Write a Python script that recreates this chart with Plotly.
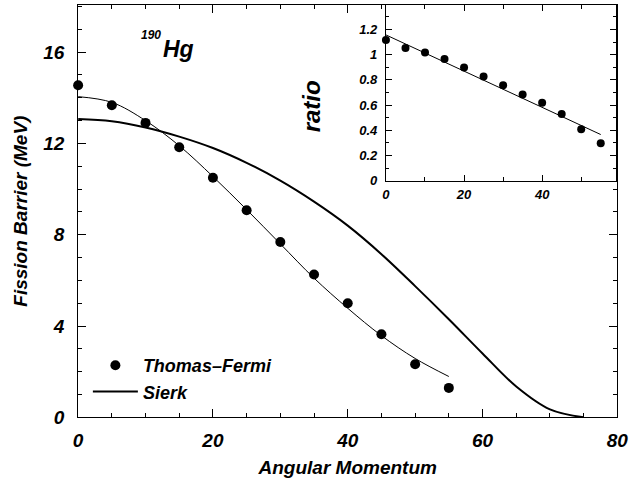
import plotly.graph_objects as go

# ---- data ----
L_tf = [0, 5, 10, 15, 20, 25, 30, 35, 40, 45, 50, 55]
tf_barrier = [14.55, 13.67, 12.9, 11.83, 10.5, 9.07, 7.68, 6.26, 5.0, 3.64, 2.33, 1.29]
tf_fit = [14.05, 13.8, 13.0, 11.9, 10.55, 9.1, 7.6, 6.1, 4.78, 3.58, 2.58, 1.79]

L_sierk = [0, 5, 10, 15, 20, 25, 30, 35, 40, 45, 50, 55, 60, 65, 70, 75]
sierk = [13.07, 12.97, 12.7, 12.3, 11.8, 11.15, 10.37, 9.45, 8.4, 7.15, 5.75, 4.3, 2.8, 1.35, 0.35, 0.0]

ratio = [1.116, 1.054, 1.018, 0.966, 0.899, 0.827, 0.757, 0.685, 0.62, 0.53, 0.408, 0.297]
L_ratio_fit = [0, 55]
ratio_fit = [1.157, 0.367]

FONT = "Liberation Sans"
W, H = 641, 487


def px(x):
    return x / W


def py(y):
    return (H - y) / H


def bi(size):
    return dict(family=FONT, size=size, color="black", weight="bold", style="italic")


fig = go.Figure()

fig.add_trace(go.Scatter(x=L_tf, y=tf_fit, mode="lines", line=dict(color="black", width=1, shape="spline"),
                         showlegend=False, xaxis="x", yaxis="y"))
fig.add_trace(go.Scatter(x=L_tf, y=tf_barrier, mode="markers", name="Thomas\u2013Fermi",
                         marker=dict(color="black", size=10), cliponaxis=False, xaxis="x", yaxis="y"))
fig.add_trace(go.Scatter(x=L_sierk, y=sierk, mode="lines", name="Sierk",
                         line=dict(color="black", width=2, shape="spline", smoothing=1.0),
                         xaxis="x", yaxis="y"))

fig.add_trace(go.Scatter(x=L_ratio_fit, y=ratio_fit, mode="lines", line=dict(color="black", width=1),
                         showlegend=False, xaxis="x2", yaxis="y2"))
fig.add_trace(go.Scatter(x=L_tf, y=ratio, mode="markers", marker=dict(color="black", size=8),
                         showlegend=False, cliponaxis=False, xaxis="x2", yaxis="y2"))

axis_common = dict(showline=True, linecolor="black", linewidth=1, mirror="ticks", ticks="inside",
                   tickcolor="black", showgrid=False, zeroline=False)

fig.update_layout(
    width=W, height=H,
    margin=dict(l=0, r=0, t=0, b=0),
    paper_bgcolor="white", plot_bgcolor="white",
    xaxis=dict(domain=[px(75), px(628)], range=[0, 80], dtick=20, ticklen=8,
               tickfont=bi(19), anchor="y", ticklabelstandoff=6,
               minor=dict(dtick=5, ticks="inside", ticklen=4, tickcolor="black"),
               title=dict(text="Angular Momentum", font=bi(19), standoff=10),
               **axis_common),
    yaxis=dict(domain=[py(427), py(5)], range=[0, 18.07], tickvals=[0, 4, 8, 12, 16], ticklen=8,
               tickfont=bi(19), anchor="x", ticklabelstandoff=9,
               minor=dict(dtick=1, ticks="inside", ticklen=4, tickcolor="black"),
               title=dict(text="Fission Barrier (MeV)", font=bi(19), standoff=10),
               **axis_common),
    xaxis2=dict(domain=[px(390.7), px(627)], range=[0, 59], tickvals=[0, 20, 40], ticklen=6,
                tickfont=bi(13), anchor="y2", ticklabelstandoff=2,
                minor=dict(dtick=10, ticks="inside", ticklen=4, tickcolor="black"),
                **axis_common),
    yaxis2=dict(domain=[py(185), py(5)], range=[0, 1.395], tickvals=[0, 0.2, 0.4, 0.6, 0.8, 1, 1.2],
                ticktext=["0", "0.2", "0.4", "0.6", "0.8", "1", "1.2"], ticklen=6,
                tickfont=bi(13), anchor="x2", ticklabelstandoff=5,
                minor=dict(dtick=0.1, ticks="inside", ticklen=3, tickcolor="black"),
                **axis_common),
    legend=dict(x=px(85), y=py(355), xanchor="left", yanchor="top", bgcolor="rgba(0,0,0,0)",
                font=bi(18), tracegroupgap=0, itemwidth=45),
    annotations=[
        dict(text="190", x=px(137), y=py(36), xref="paper", yref="paper", showarrow=False,
             xanchor="left", yanchor="middle", font=bi(12)),
        dict(text="Hg", x=px(160), y=py(50), xref="paper", yref="paper", showarrow=False,
             xanchor="left", yanchor="middle", font=bi(23)),
        dict(text="ratio", x=px(314.5), y=py(80.5), xref="paper", yref="paper", showarrow=False,
             textangle=-90, font=bi(24)),
    ],
)

fig.write_html("out.html")
